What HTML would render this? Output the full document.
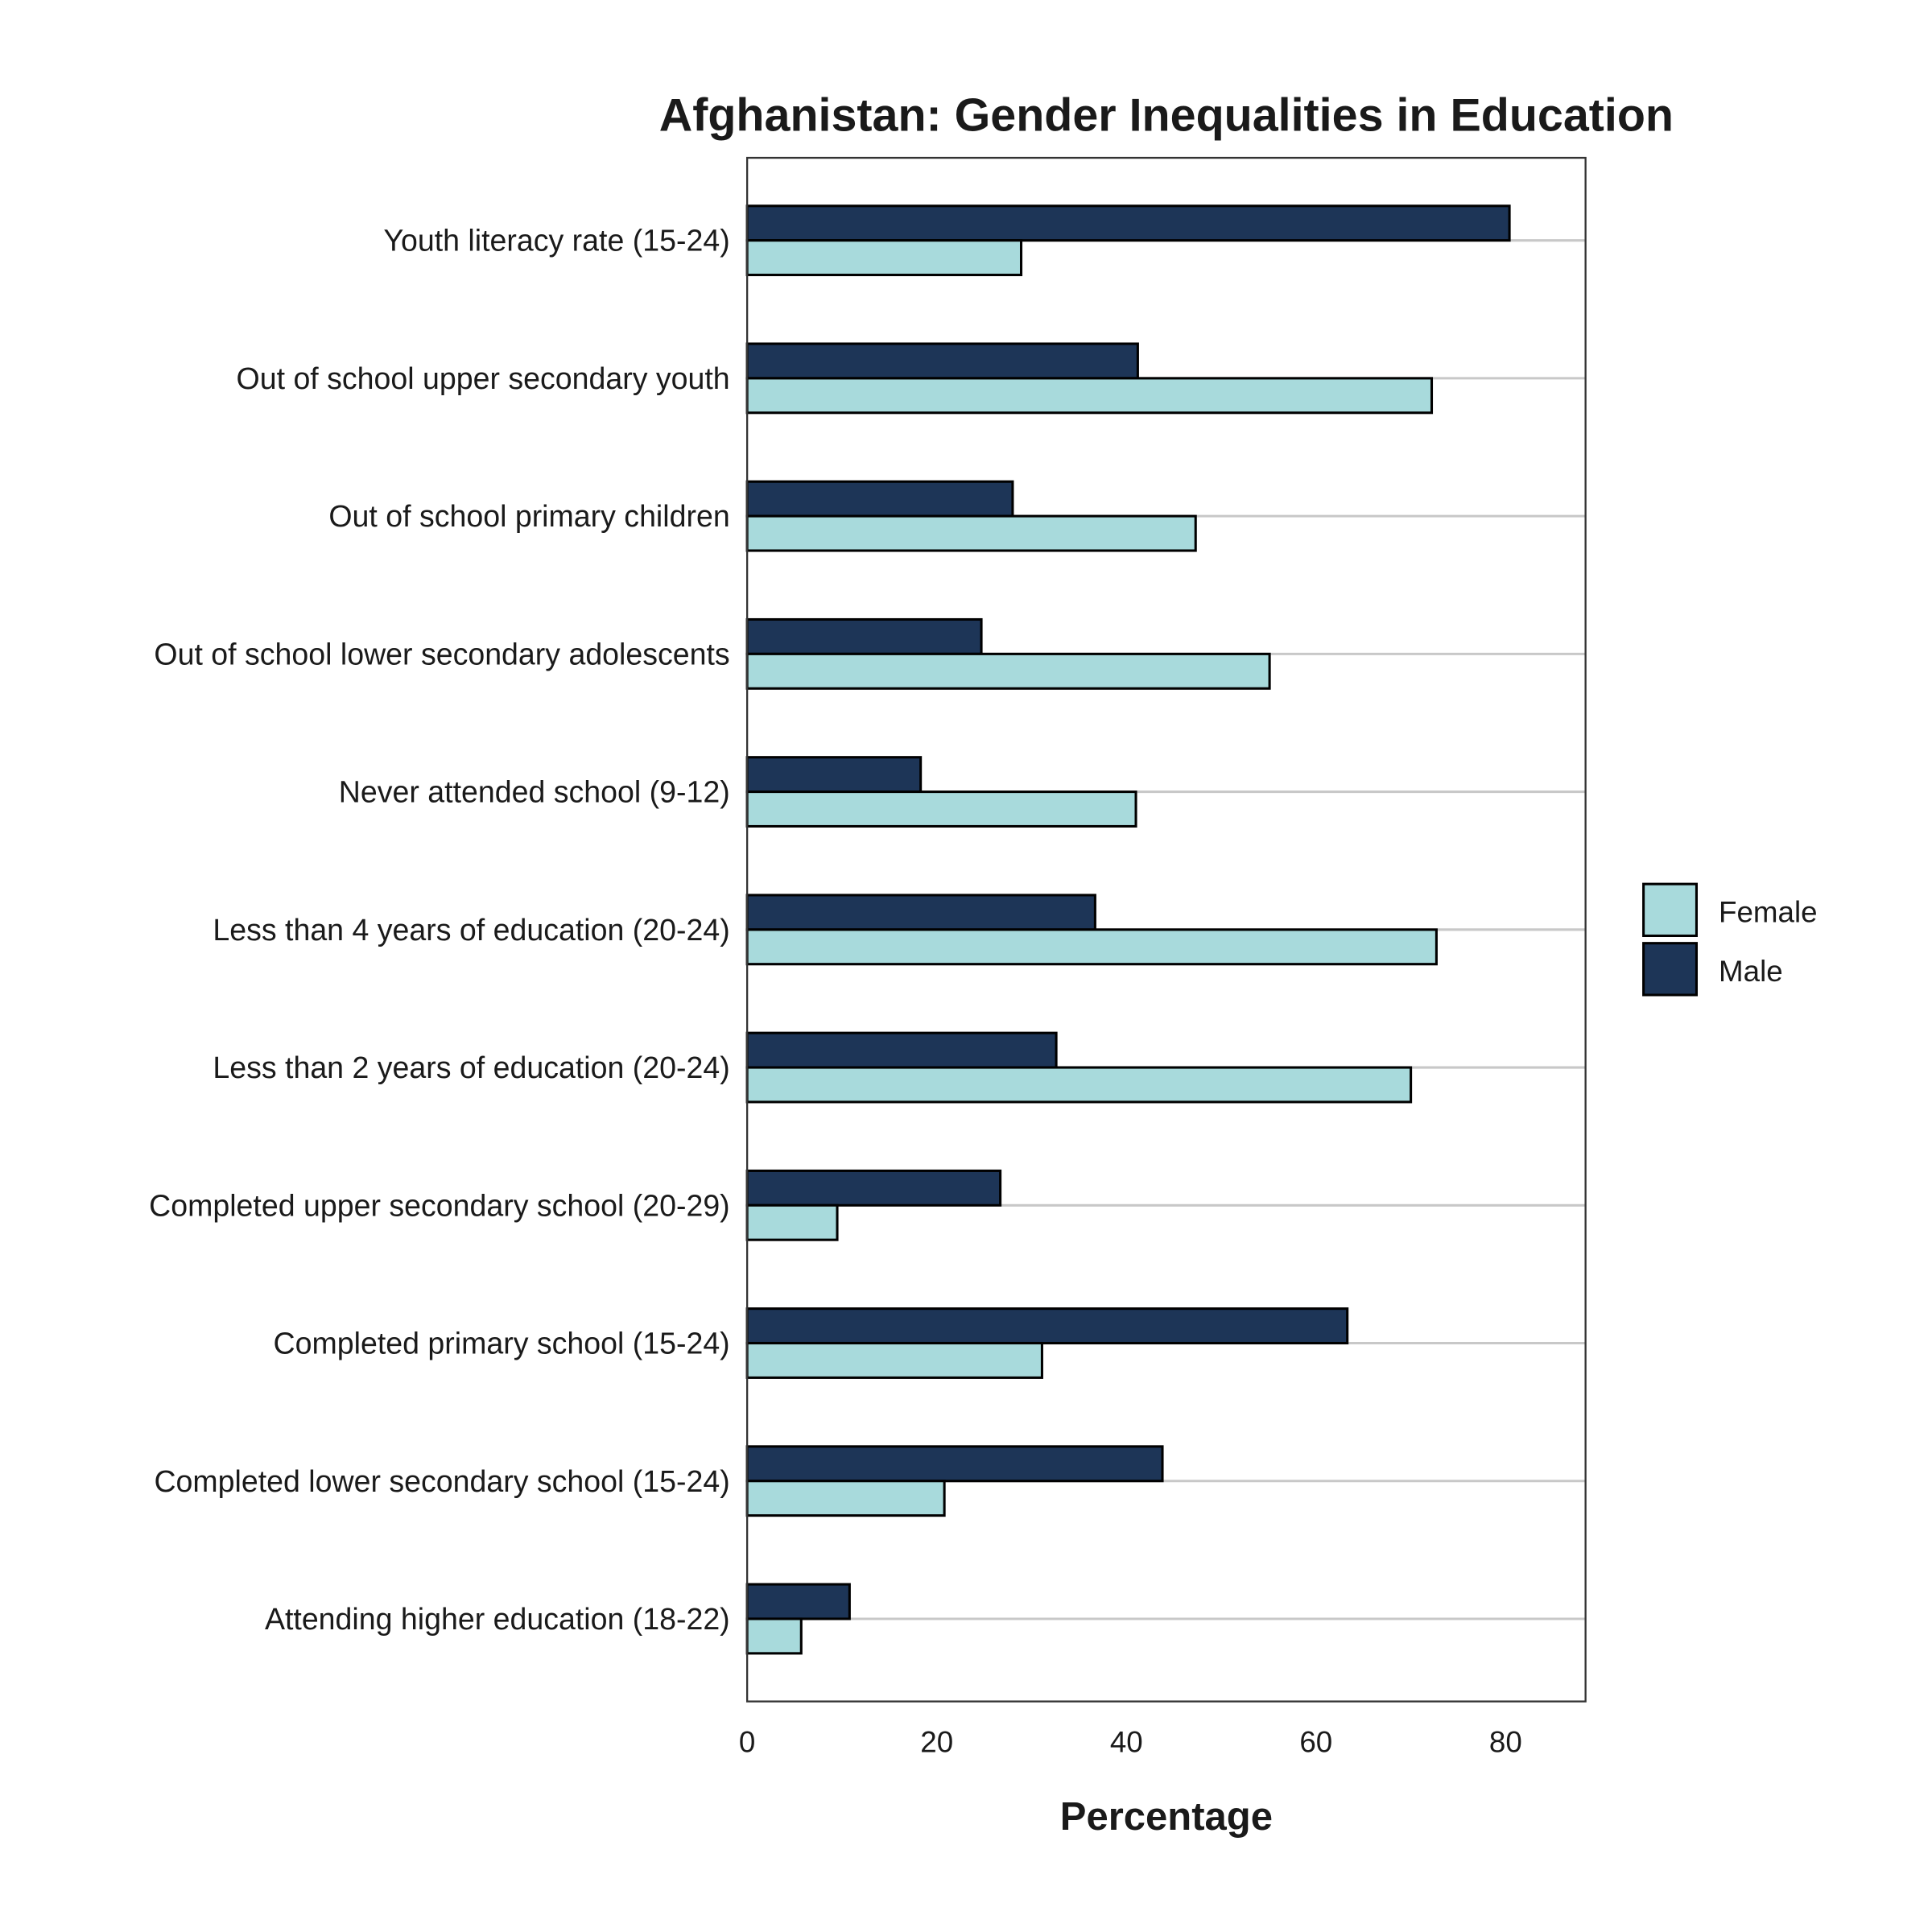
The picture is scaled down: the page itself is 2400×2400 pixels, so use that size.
<!DOCTYPE html>
<html><head><meta charset="utf-8"><style>
html,body{margin:0;padding:0;background:#fff}
svg{display:block}
text{font-family:"Liberation Sans",Arial,sans-serif;fill:#1a1a1a}
</style></head><body>
<svg id="chart" width="2400" height="2400" viewBox="0 0 1567 1567" xmlns="http://www.w3.org/2000/svg">
<rect width="1567" height="1567" fill="#fff"/>
<text x="946" y="106" text-anchor="middle" font-size="37.5" font-weight="bold">Afghanistan: Gender Inequalities in Education</text>
<g id="grid"></g>
<g id="bars"></g>
<rect x="606" y="128" width="680" height="1252" fill="none" stroke="#333" stroke-width="1.5"/>
<g id="ylabels"></g>
<g id="xticks"></g>
<text x="946" y="1484" text-anchor="middle" font-size="32" font-weight="bold">Percentage</text>
<g>
<rect x="1333" y="717" width="43" height="42" fill="#a8dadc" stroke="#000" stroke-width="2"/>
<text x="1394" y="748" font-size="24">Female</text>
<rect x="1333" y="765" width="43" height="42" fill="#1d3557" stroke="#000" stroke-width="2"/>
<text x="1394" y="796" font-size="24">Male</text>
</g>
</svg>
<script>
const categories = ["Youth literacy rate (15-24)","Out of school upper secondary youth","Out of school primary children","Out of school lower secondary adolescents","Never attended school (9-12)","Less than 4 years of education (20-24)","Less than 2 years of education (20-24)","Completed upper secondary school (20-29)","Completed primary school (15-24)","Completed lower secondary school (15-24)","Attending higher education (18-22)"];
const maleValues = [80.4,41.2,28.0,24.7,18.3,36.7,32.6,26.7,63.3,43.8,10.8];
const femaleValues = [28.9,72.2,47.3,55.1,41.0,72.7,70.0,9.5,31.1,20.8,5.7];
const xTicks = [0,20,40,60,80];

const NS="http://www.w3.org/2000/svg";
const x0=606, xUnit=7.69, yFirst=195, yStep=111.8, barH=28;
const xs=v=>x0+v*xUnit;
const ys=i=>yFirst+i*yStep;
function mk(tag,attrs,parent){const e=document.createElementNS(NS,tag);for(const k in attrs)e.setAttribute(k,attrs[k]);parent.appendChild(e);return e;}
const grid=document.getElementById('grid'),bars=document.getElementById('bars'),yl=document.getElementById('ylabels'),xt=document.getElementById('xticks');
categories.forEach((c,i)=>{
  const y=ys(i);
  const g=mk('line',{x1:606,x2:1286,y1:y,y2:y,stroke:'#c8c8c8','stroke-width':2},grid);
  
  
  const m=mk('rect',{x:x0,y:y-barH,width:xs(maleValues[i])-x0,height:barH,fill:'#1d3557',stroke:'#000','stroke-width':2},bars);
  
  
  const f=mk('rect',{x:x0,y:y,width:xs(femaleValues[i])-x0,height:barH,fill:'#a8dadc',stroke:'#000','stroke-width':2},bars);
  
  
  const t=mk('text',{x:592,y:y+8.5,'text-anchor':'end','font-size':24.5},yl);
  t.textContent=c;
  
  
});
xTicks.forEach(v=>{
  const t=mk('text',{x:xs(v),y:1421,'text-anchor':'middle','font-size':24},xt);
  t.textContent=v;
  
  
});
</script>
</body></html>
